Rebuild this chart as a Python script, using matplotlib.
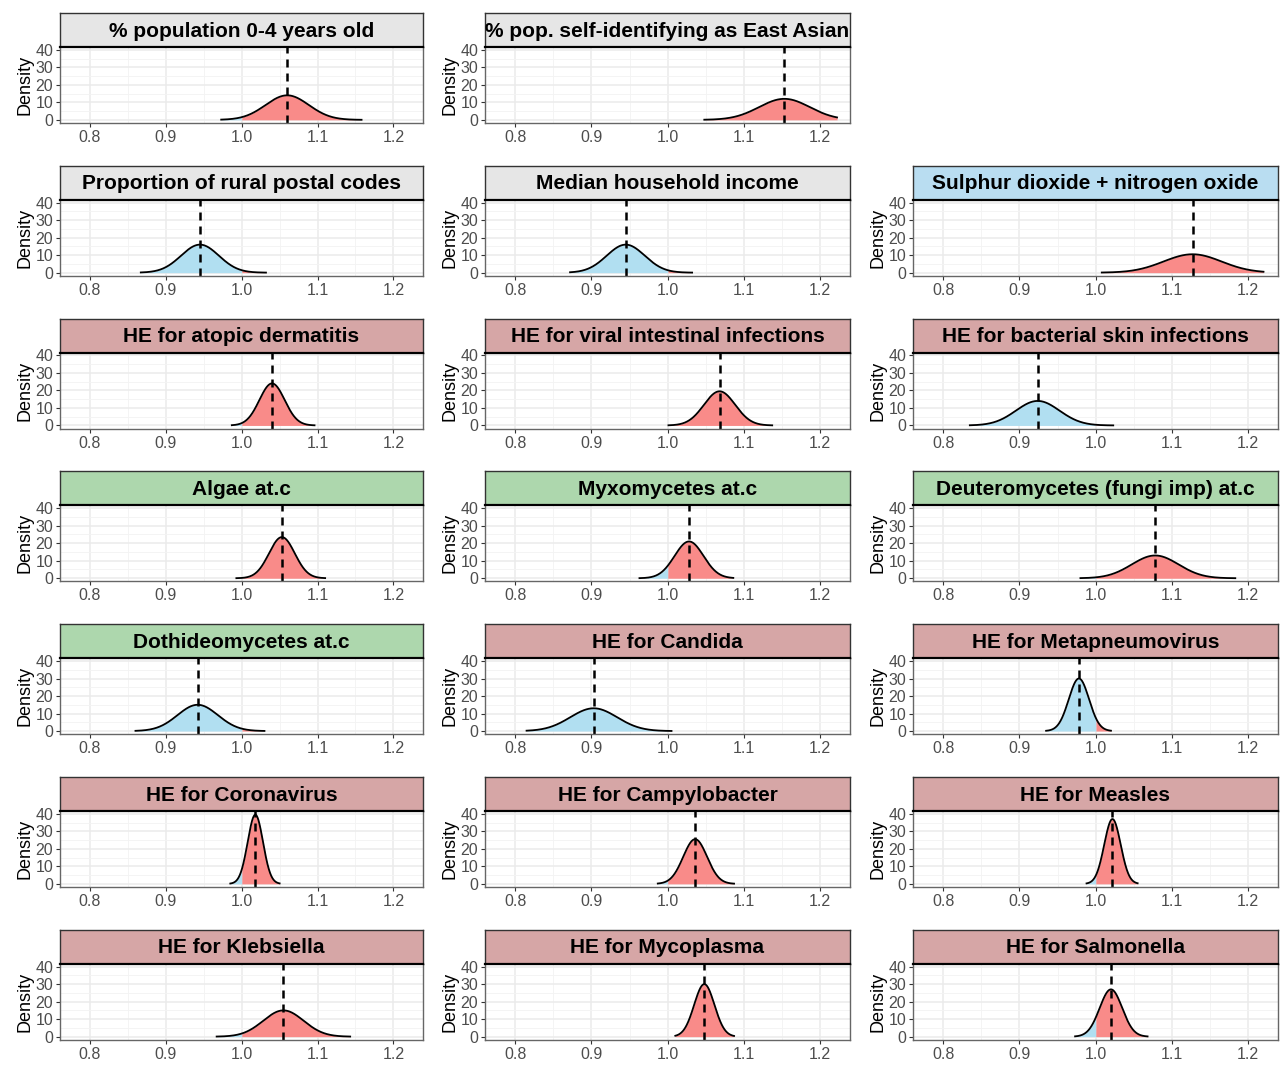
import numpy as np
import matplotlib
matplotlib.use('Agg')
import matplotlib.pyplot as plt

plt.rcParams['font.family'] = ['Liberation Sans', 'DejaVu Sans']

# Posterior summaries for each covariate: mean, peak density and plotted range
titles = [
    ['% population 0-4 years old', '% pop. self-identifying as East Asian', None],
    ['Proportion of rural postal codes', 'Median household income', 'Sulphur dioxide + nitrogen oxide'],
    ['HE for atopic dermatitis', 'HE for viral intestinal infections', 'HE for bacterial skin infections'],
    ['Algae at.c', 'Myxomycetes at.c', 'Deuteromycetes (fungi imp) at.c'],
    ['Dothideomycetes at.c', 'HE for Candida', 'HE for Metapneumovirus'],
    ['HE for Coronavirus', 'HE for Campylobacter', 'HE for Measles'],
    ['HE for Klebsiella', 'HE for Mycoplasma', 'HE for Salmonella'],
]
groups = [
    ['demo', 'demo', None],
    ['demo', 'demo', 'env'],
    ['health', 'health', 'health'],
    ['bio', 'bio', 'bio'],
    ['bio', 'health', 'health'],
    ['health', 'health', 'health'],
    ['health', 'health', 'health'],
]
means = [
    [1.060, 1.153, None],
    [0.945, 0.945, 1.127],
    [1.040, 1.068, 0.924],
    [1.053, 1.028, 1.078],
    [0.942, 0.903, 0.978],
    [1.018, 1.036, 1.022],
    [1.055, 1.048, 1.020],
]
peaks = [
    [14.0, 12.0, None],
    [16.0, 16.0, 10.5],
    [24.0, 19.5, 14.0],
    [23.5, 21.0, 13.0],
    [15.0, 13.0, 30.0],
    [39.5, 25.5, 37.0],
    [15.0, 30.0, 27.0],
]
lows = [
    [0.973, 1.048, None],
    [0.867, 0.872, 1.008],
    [0.987, 1.001, 0.835],
    [0.993, 0.963, 0.980],
    [0.860, 0.815, 0.935],
    [0.985, 0.987, 0.988],
    [0.967, 1.010, 0.973],
]
highs = [
    [1.158, 1.222, None],
    [1.032, 1.032, 1.220],
    [1.096, 1.137, 1.023],
    [1.110, 1.086, 1.183],
    [1.030, 1.005, 1.020],
    [1.050, 1.087, 1.055],
    [1.143, 1.087, 1.068],
]

strip_colors = {'demo': '#E6E6E6', 'env': '#B9DDF1', 'health': '#D6A6A6', 'bio': '#ADD7AD'}
pos_color = '#F98B89'
neg_color = '#B1DFF1'

W, H = 1288, 1065
col_left = [60, 485, 913]
col_w = [363, 365, 365]
row_pitch = 152.8
strip_h = 34
panel_h = 76

fig = plt.figure(figsize=(W / 100, H / 100), dpi=100)

for r in range(len(titles)):
    for c in range(3):
        if titles[r][c] is None:
            continue
        top = 13 + r * row_pitch
        x0 = col_left[c] / W
        w = col_w[c] / W

        # strip with the covariate name
        sax = fig.add_axes([x0, 1 - (top + strip_h) / H, w, strip_h / H])
        sax.set_facecolor(strip_colors[groups[r][c]])
        sax.set_xticks([])
        sax.set_yticks([])
        for s in sax.spines.values():
            s.set_color('#333333')
            s.set_linewidth(1.0)
        sax.text(0.5, 0.47, titles[r][c], ha='center', va='center',
                 fontsize=15, fontweight='bold', transform=sax.transAxes)

        # density panel
        ax = fig.add_axes([x0, 1 - (top + strip_h + panel_h) / H, w, panel_h / H])
        m, pk = means[r][c], peaks[r][c]
        sd = 1 / (pk * np.sqrt(2 * np.pi))
        x = np.linspace(lows[r][c], highs[r][c], 600)
        y = pk * np.exp(-0.5 * ((x - m) / sd) ** 2)
        ax.fill_between(x, 0, y, where=x >= 1.0, color=pos_color, lw=0, interpolate=True)
        ax.fill_between(x, 0, y, where=x <= 1.0, color=neg_color, lw=0, interpolate=True)
        ax.plot(x, y, color='black', lw=1.3)
        ax.axvline(m, color='black', lw=1.8, ls=(0, (3.2, 2.4)))

        ax.set_xlim(0.7605, 1.239)
        ax.set_ylim(-1.8, 41.6)
        ax.set_xticks([0.8, 0.9, 1.0, 1.1, 1.2])
        ax.set_xticklabels(['0.8', '0.9', '1.0', '1.1', '1.2'])
        ax.set_yticks([0, 10, 20, 30, 40])
        ax.set_xticks([0.85, 0.95, 1.05, 1.15], minor=True)
        ax.set_yticks([5, 15, 25, 35], minor=True)
        ax.grid(which='major', color='#EBEBEB', lw=1.1)
        ax.grid(which='minor', color='#F3F3F3', lw=0.6)
        ax.set_axisbelow(True)
        ax.tick_params(which='major', length=3, color='#333333', labelcolor='#4D4D4D',
                       labelsize=11.5, pad=2)
        ax.tick_params(which='minor', length=0)
        for s in ax.spines.values():
            s.set_color('#666666')
            s.set_linewidth(1.0)
        ax.spines['top'].set_color('black')
        ax.spines['top'].set_linewidth(1.6)
        ax.set_ylabel('Density', fontsize=13, labelpad=1)

fig.savefig('out.png', dpi=100)
